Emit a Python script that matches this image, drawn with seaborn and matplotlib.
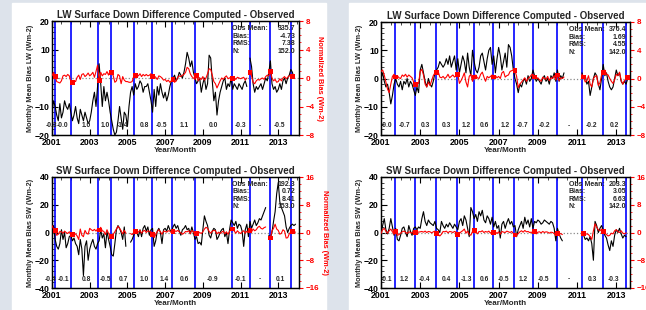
import numpy as np
import pandas as pd
import matplotlib
matplotlib.use('Agg')
import matplotlib.pyplot as plt
import matplotlib.transforms as mtransforms
from matplotlib.ticker import MultipleLocator
import seaborn as sns

sns.set_theme(style='white')
plt.rcParams['font.family'] = ['Liberation Sans', 'DejaVu Sans']
plt.rcParams['font.weight'] = 'bold'
plt.rcParams['axes.labelweight'] = 'bold'
plt.rcParams['axes.titleweight'] = 'bold'

nan = np.nan

# ---- LW, left station (monthly, from Jan 2001) ----
lw1_bias = [-12, -8, -10, -13, -15, -9, -14, -12, -8, -10, -11, -9,
            -12, -15, -13, -10, -14, -16, -11, -13, -15, -12, -14, -16,
            -15, -12, -8, -5, -10, -3, 5, -2, -10, -3, -8, -5,
            -8, -12, -15, -18, -20, -19, -15, -10, -14, -18, -12, -13,
            -17, -10, -5, -3, -6, -2, -4, -3, -1, -2, -5, -3,
            -3, -2, -5, -8, -12, -4, -10, -3, -6, -2, -5, -7,
            -5, -8, -6, -3, -1, 0, 1, -1, 0, 2, 1, 0,
            2, 5, 9, 7, 4, 6, 2, 0, -2, -1, 0, -5,
            -2, 0, -4, -2, 8, 7, -1, -8, -5, -13, -8, -5,
            -3, -1, 0, -4, -2, -3, 0, -4, -2, -3, -4, -2,
            -3, -4, -2, -1, -3, nan, 7, 4, -2, -5, -3, -4,
            -3, -2, -4, -2, 0, -1, 2, 6, -2, -4, -3, -5,
            -4, -2, -4, -1, 0, -2, 0, 1, 3, 2, 0, nan]
lw1_norm = [0.3, 0.8, 0.2, -0.5, -0.6, -0.7, -0.4, 0.3, 0.4, 0.2, 0.5, 0.3,
            -0.5, -0.6, -0.4, -0.5, 0.1, 0.4, -0.2, 0.5, 0.6, 0.2, 0.4, 0.7,
            0.3, 0.5, 0.8, 0.1, 0.9, 1.8, -0.4, 0.8, 0.3, 0.6, 0.5, 0.9,
            0.4, 1.0, 0.8, 0.3, -0.6, -0.4, 0.5, 0.3, -0.8, 0.2, -0.3, -0.5,
            -0.5, -0.6, -0.6, -0.5, 0.2, 0.4, 0.5, 0.3, 0.6, 0.2, 0.5, 0.3,
            0.5, 0.3, 0.4, 0.6, 0.2, 0.3, 0.1, -0.2, 0.3, 0.2, 0.0, -0.3,
            -0.2, -0.5, -0.3, -0.6, -0.4, -0.2, -0.6, -0.4, 0.1, 0.3, 0.2, 0.4,
            0.5, 0.8, 1.5, 1.3, 0.6, 0.2, 0.0, -0.2, 0.3, -0.4, 0.0, -0.2,
            0.2, -0.3, 0.0, 0.6, 1.3, 1.2, 0.4, -0.5, -0.8, -1.4, -0.9, -0.4,
            0.0, -0.2, 0.1, 0.3, -0.1, 0.0, 0.2, -0.1, 0.0, -0.2, 0.1, 0.0,
            -0.1, 0.0, 0.1, -0.3, 0.0, nan, 0.8, 0.3, -0.6, -0.8, -0.4, -0.2,
            -0.3, -0.1, 0.0, -0.2, 0.2, 0.4, 0.3, 0.9, 0.0, -0.4, -0.2, -0.6,
            -0.5, -0.1, -0.4, 0.0, 0.2, -0.1, 0.1, 0.3, 0.4, 0.2, 0.0, nan]
lw1_breaks = [2001.14, 2002.03, 2003.44, 2004.13, 2005.36, 2006.33, 2007.36,
              2008.59, 2010.53, 2011.49, 2012.56, 2013.68]
lw1_labels = ['-0.3', '-0.0', '1.0', '1.0', '-1.4', '0.8', '-0.5', '1.1',
              '0.0', '-0.3', '-', '-0.5']
lw1_label_x = [2000.95, 2001.57, 2002.83, 2003.84, 2004.73, 2005.89, 2006.83,
               2007.99, 2009.57, 2011.0, 2012.02, 2013.09]
lw1_stats = ['335.7', '-4.73', '7.38', '152.0']

# ---- LW, right station ----
lw2_bias = [0, 2, -1, -3, -2, -5, -9, -6, -2, 0, -2, -3,
            -1, -4, -1, -2, 0, -3, -1, -2, -4, -6, -3, -5,
            3, 5, 2, -1, -3, 0, -2, -3, -1, 2, 3, 4,
            6, 5, 4, 5, 7, 5, 8, 4, 6, 8, 3, 7,
            2, 5, 8, 6, 2, 9, 4, 1, 10, 6, 3, 2,
            4, 8, 9, 6, 3, 7, 10, 11, 5, 8, 2, 7,
            11, 8, 3, 6, 9, 4, 12, 11, 8, 3, 0, -2,
            -5, -2, -3, -1, 0, -2, 1, -1, 0, 3, 1, -1,
            0, -1, -2, 0, 1, -1, 0, -2, 1, 0, 2, -1,
            3, -1, 1, 0, 2, nan, nan, nan, nan, nan, nan, nan,
            nan, nan, nan, 2, 0, 1, -2, -1, -6, -3, 0, 2,
            1, -2, -4, 0, 5, 1, 2, -1, -3, -4, -3, 0,
            3, 1, 2, -1, -2, -1, -2, 0, nan, nan, nan, nan]
lw2_norm = [1.0, 1.2, 0.5, -0.5, -1.5, -2.0, -0.8, 0.3, 0.6, 0.2, 0.4, 0.1,
            0.0, 0.5, 0.3, 0.6, 0.2, 0.5, 0.3, 0.1, -0.5, -0.9, -0.6, -0.7,
            1.0, 1.3, 0.5, -0.8, -1.2, -0.5, -1.0, -0.3, 0.4, 0.8, 0.9, 1.0,
            0.2, 0.1, 0.3, 0.0, 0.2, 0.6, 0.1, 0.3, 0.5, 0.2, 0.4, 0.6,
            -0.7, -0.3, 0.2, 0.8, -0.5, -1.2, 0.3, 0.6, -0.4, 0.2, 0.5, 0.1,
            0.0, 0.6, 0.9, 0.2, -0.4, 0.3, 0.1, 0.3, 0.5, 0.2, 0.4, 0.1,
            0.3, 0.0, 0.8, 1.0, 0.2, 0.4, 0.5, 1.0, 1.1, 1.2, 1.1, 0.3,
            -1.3, -0.8, -0.5, -0.2, 0.1, -0.4, 0.0, 0.2, 0.5, 0.6, 0.2, 0.0,
            0.1, -0.2, -0.4, 0.2, 0.0, -0.1, 0.3, -0.3, 0.1, 0.0, 0.4, -0.2,
            0.5, -0.3, 0.1, 0.0, 0.2, nan, nan, nan, nan, nan, nan, nan,
            nan, nan, nan, 0.6, 0.2, -0.5, -0.3, 0.4, -0.8, -1.2, 0.0, 0.3,
            0.4, -1.0, -0.6, 0.5, 0.8, 1.2, 0.6, 0.5, 0.0, -0.4, -0.7, -0.2,
            0.6, 0.4, 0.9, -0.3, -0.8, -0.3, -0.1, 0.1, nan, nan, nan, nan]
lw2_breaks = [2001.71, 2002.73, 2003.80, 2004.90, 2005.74, 2006.72, 2007.79,
              2008.76, 2010.0, 2011.27, 2012.32, 2013.51]
lw2_labels = ['-0.0', '-0.7', '0.3', '0.3', '1.2', '0.6', '1.2', '-0.7',
              '-0.2', '-', '-0.2', '0.2']
lw2_label_x = [2001.29, 2002.19, 2003.29, 2004.34, 2005.36, 2006.30, 2007.32,
               2008.20, 2009.35, 2010.58, 2011.73, 2012.92]
lw2_stats = ['376.4', '1.69', '4.55', '142.0']

# ---- SW, left station ----
sw1_bias = [3, 5, -5, -10, -12, -8, 2, -5, 0, -11, -8, -3,
            -2, -6, -4, -8, -10, -16, -5, -12, -31, -10, -6, -20,
            -12, -8, -5, -10, -12, -8, -6, 2, -4, -1, -11, 1,
            -5, -10, -16, -17, -8, 2, 5, 3, 0, -5, 4, -10,
            nan, nan, -7, -5, -2, 1, 0, -3, 2, -3, 3, 5,
            1, 4, -2, 2, 3, -10, -6, 1, 3, 0, -8, 2,
            3, 1, 5, 2, 0, 4, 6, 3, 5, 1, -2, 2,
            3, 5, 2, 3, -1, 4, 0, -5, -3, -8, -7, -9,
            2, 12, 8, 5, -2, -4, 1, 3, 2, -5, -3, 0,
            2, 3, -3, 0, -8, 2, 9, 7, 5, 8, 3, 6,
            5, 1, -10, 2, 6, -3, 8, 3, 6, 9, 5, 7,
            10, 9, 12, 15, 18, nan, -2, -4, 0, 8, 15, 28,
            36, 22, 18, 15, 12, 4, 0, 3, 5, 6, 5, 6]
sw1_norm = [2.0, 1.0, 0.5, -0.8, -0.5, 0.3, 0.2, -0.2, 0.4, 0.0, -0.3, 0.2,
            -0.3, -0.5, -0.6, -0.4, -1.0, -2.0, 1.0, -0.8, -1.2, 0.6, -0.2, -0.5,
            1.2, 0.8, 0.5, 0.9, 0.4, 1.0, 0.7, 1.5, 0.5, 0.3, -0.6, 0.8,
            -0.3, -1.0, -1.2, -0.5, 0.2, 1.0, 1.8, 1.2, 0.5, -0.4, 0.6, -0.2,
            nan, nan, -0.3, -0.6, -0.2, 0.4, 0.5, 0.1, 0.6, -0.2, 0.4, 0.6,
            0.0, 0.5, 0.3, 0.2, -0.5, -1.5, -0.6, 0.3, 0.8, 0.2, -0.5, 0.4,
            0.3, 0.1, 0.5, 0.4, 0.0, 0.2, 0.5, 0.3, 0.6, 0.2, -0.1, -0.5,
            -0.2, 0.3, 0.2, 0.5, -0.3, 0.6, 0.1, -0.6, -0.4, 0.2, 0.0, -0.3,
            0.2, 1.0, 1.5, 1.2, 0.3, -0.2, 0.4, 0.6, 0.5, -0.4, 0.1, -0.3,
            0.1, 0.4, -0.4, 0.2, -0.5, 0.3, 1.2, 1.0, 0.4, -0.2, 0.5, 0.0,
            -0.3, 0.2, 0.5, -0.2, 0.4, 0.0, 0.6, 0.2, 1.0, 0.5, 0.8, 1.5,
            1.8, 1.2, 1.0, 1.4, 1.6, nan, -1.4, -1.6, 0.5, 1.2, 2.4, 1.0,
            0.6, -0.5, -0.2, 0.8, 0.4, -1.6, -1.5, -0.4, 0.2, 0.3, 0.2, 0.1]
sw1_breaks = lw1_breaks
sw1_labels = ['-0.4', '-0.1', '0.8', '-0.5', '0.7', '1.0', '1.4', '0.6',
              '-0.9', '-0.1', '-', '0.1']
sw1_label_x = [2000.90, 2001.62, 2002.83, 2003.84, 2004.79, 2005.89, 2006.96,
               2008.02, 2009.53, 2011.0, 2012.02, 2013.09]
sw1_stats = ['192.3', '0.72', '8.41', '153.0']

# ---- SW, right station ----
sw2_bias = [0, 5, 10, 2, -1, 3, 10, 4, -2, 3, -5, -6,
            -2, 3, 4, 0, -3, 5, 1, -2, 3, 4, 2, 4,
            3, 10, 15, 8, 5, 9, 7, 6, 5, 8, 3, 2,
            0, 8, 5, 3, 6, 4, 7, 5, 3, 6, 4, 2,
            8, 10, 5, 12, 9, 3, -3, 18, 15, 10, 13, 8,
            15, 12, 16, 9, 7, 12, 10, 6, 11, 4, 8, 3,
            5, -4, 6, 8, 3, 7, 10, 6, 8, 4, 5, -3,
            2, 5, 8, 3, 11, 6, 9, 4, 10, 3, 8, 7,
            9, 8, 6, 7, 9, 8, 7, 6, 8, 7, 3, -6,
            3, -1, -4, -6, nan, nan, nan, nan, nan, nan, nan, nan,
            nan, nan, nan, 0, -2, -5, -4, -6, -3, -8, -20, 8,
            5, 0, 3, 5, 2, -2, -4, -9, -13, -6, -10, -2,
            2, 0, 3, -1, -4, -2, -3, nan, nan, nan, nan, nan]
sw2_norm = [-0.3, 0.8, 1.2, 0.3, -0.2, 0.5, 1.0, 0.2, -0.5, 0.3, -0.8, -0.6,
            -0.2, 0.2, 0.4, 0.1, -0.3, 0.2, 0.0, -0.2, 0.3, 0.1, 0.2, 0.1,
            0.2, 0.3, 0.1, 0.4, 0.0, 0.3, 0.2, -0.1, 0.2, 0.4, -0.3, -0.5,
            -1.0, -0.5, 0.3, 0.2, 0.4, -0.1, 0.3, 0.2, 0.0, 0.3, 0.1, -0.6,
            -0.3, 0.2, 0.5, 1.0, -0.2, 0.4, -0.5, -0.8, 0.3, 0.6, 0.1, -0.4,
            0.3, 0.2, 0.5, 0.0, 0.3, 0.1, 0.4, -0.2, 0.3, 0.0, 0.2, -0.3,
            0.2, -0.5, 0.3, 0.1, 0.0, 0.4, 0.2, 0.0, 0.3, -0.3, -0.7, -0.8,
            -0.3, 0.2, 0.5, 0.1, 0.6, 0.2, 0.3, 0.0, 0.1, -0.2, 0.2, -0.4,
            0.1, 0.2, -0.1, 0.3, 0.0, 0.2, 0.1, -0.2, 0.1, 0.0, -0.3, -0.8,
            -0.2, -0.5, -0.3, -0.6, nan, nan, nan, nan, nan, nan, nan, nan,
            nan, nan, nan, -0.2, -0.3, -0.5, -0.4, -0.6, -1.2, -2.0, 0.5, 2.5,
            1.5, 0.8, 0.5, 1.0, 0.3, -0.3, -0.6, -1.0, -0.8, -0.2, -0.4, 0.5,
            0.8, 0.3, 0.0, 0.5, -0.2, -0.4, -0.1, nan, nan, nan, nan, nan]
sw2_breaks = lw2_breaks
sw2_labels = ['-0.1', '1.2', '-0.4', '0.4', '-1.3', '0.6', '-0.5', '1.2',
              '-0.5', '-', '0.3', '-0.3']
sw2_label_x = [2001.29, 2002.19, 2003.24, 2004.34, 2005.36, 2006.30, 2007.23,
               2008.25, 2009.30, 2010.58, 2011.78, 2012.88]
sw2_stats = ['203.3', '3.05', '6.63', '142.0']

stat_names = ['Obs Mean:', 'Bias:', 'RMS:', 'N:']

W, H = 646, 310
fig = plt.figure(figsize=(W / 100, H / 100), dpi=100)
fig.patch.set_facecolor('#dde3eb')
# white page areas of the two screenshots
fig.add_artist(plt.Rectangle((12 / W, 0), (326 - 12) / W, 307 / H,
                             transform=fig.transFigure, color='white', zorder=0))
fig.add_artist(plt.Rectangle((349 / W, 0), (W - 349) / W, 307 / H,
                             transform=fig.transFigure, color='white', zorder=0))

panels = [
    dict(px=(52, 299), py=(21, 135), bias=lw1_bias, norm=lw1_norm, breaks=lw1_breaks,
         labels=lw1_labels, lx=lw1_label_x, stats=lw1_stats, kind='LW', xmax=2014.1,
         sx=0.73),
    dict(px=(381, 630), py=(22, 135), bias=lw2_bias, norm=lw2_norm, breaks=lw2_breaks,
         labels=lw2_labels, lx=lw2_label_x, stats=lw2_stats, kind='LW', xmax=2013.7,
         sx=0.755),
    dict(px=(52, 299), py=(177, 288), bias=sw1_bias, norm=sw1_norm, breaks=sw1_breaks,
         labels=sw1_labels, lx=sw1_label_x, stats=sw1_stats, kind='SW', xmax=2014.1,
         sx=0.73),
    dict(px=(381, 630), py=(177, 288), bias=sw2_bias, norm=sw2_norm, breaks=sw2_breaks,
         labels=sw2_labels, lx=sw2_label_x, stats=sw2_stats, kind='SW', xmax=2013.7,
         sx=0.755),
]

for p in panels:
    x0, x1 = p['px']
    y0, y1 = p['py']
    ax = fig.add_axes([x0 / W, 1 - y1 / H, (x1 - x0) / W, (y1 - y0) / H])
    ax.set_facecolor('white')
    ax2 = ax.twinx()

    n = len(p['bias'])
    t = 2001 + np.arange(n) / 12.0
    df = pd.DataFrame({'t': t, 'bias': p['bias'], 'norm': p['norm']})
    # segment ids so gaps (NaN) are not bridged
    df['seg_b'] = df['bias'].isna().cumsum()
    df['seg_n'] = df['norm'].isna().cumsum()

    if p['kind'] == 'LW':
        ylim, y2lim, ymaj, ymin, y2maj = 20, 8, 10, 2, 4
    else:
        ylim, y2lim, ymaj, ymin, y2maj = 40, 16, 20, 4, 8

    for b in p['breaks']:
        ax.axvline(b, color='#0000ff', lw=1.2, zorder=1)
    ax.axhline(0, color='#888888', ls=':', lw=0.9, zorder=1)

    sns.lineplot(data=df.dropna(subset=['bias']), x='t', y='bias', units='seg_b',
                 estimator=None, color='black', lw=0.8, ax=ax, zorder=3)
    sns.lineplot(data=df.dropna(subset=['norm']), x='t', y='norm', units='seg_n',
                 estimator=None, color='#ff0000', lw=0.8, ax=ax2, zorder=3)
    idx = np.searchsorted(df['t'].values, p['breaks'])
    idx = idx[idx < n]
    mk = df.iloc[idx].dropna(subset=['norm'])
    sns.scatterplot(data=mk, x='t', y='norm', marker='s', s=12, color='#ff0000',
                    edgecolor='none', ax=ax2, zorder=4)

    ax.set_xlim(2001, p['xmax'])
    ax.set_ylim(-ylim, ylim)
    ax2.set_ylim(-y2lim, y2lim)
    ax.xaxis.set_minor_locator(MultipleLocator(0.5))
    ax.yaxis.set_major_locator(MultipleLocator(ymaj))
    ax.yaxis.set_minor_locator(MultipleLocator(ymin))
    ax2.yaxis.set_major_locator(MultipleLocator(y2maj))
    ax2.yaxis.set_minor_locator(MultipleLocator(1 if p['kind'] == 'LW' else 2))

    ax.tick_params(axis='both', which='major', direction='in', length=4, width=0.8,
                   labelsize=6.3, top=True, pad=2, colors='black')
    ax.tick_params(axis='both', which='minor', direction='in', length=2, width=0.6,
                   top=True)
    ax.tick_params(axis='y', left=True, right=False, pad=1.5)
    ax.tick_params(axis='x', bottom=True, pad=2.5)
    ax2.tick_params(axis='y', which='major', direction='out', length=3, width=0.8,
                    colors='#ff0000', labelsize=5.8, pad=2)
    ax2.tick_params(axis='y', which='minor', direction='out', length=1.5,
                    width=0.6, colors='#ff0000')
    ax.set_xticks([2001, 2003, 2005, 2007, 2009, 2011, 2013])
    ax.set_xticklabels(['2001', '2003', '2005', '2007', '2009', '2011', '2013'],
                       fontweight='bold')
    for lab in ax.get_yticklabels():
        lab.set_fontweight('bold')
    for lab in ax2.get_yticklabels():
        lab.set_fontweight('bold')

    for a in (ax, ax2):
        for s in a.spines.values():
            s.set_color('black')
            s.set_linewidth(0.9)

    ax.set_title('%s Surface Down Difference Computed - Observed' % p['kind'],
                 fontsize=7, fontweight='bold', pad=2.5)
    ax.set_xlabel('Year/Month', fontsize=5.8, fontweight='bold', labelpad=0)
    ax.set_ylabel('Monthly Mean Bias %s (Wm-2)' % p['kind'], fontsize=5.3,
                  fontweight='bold', labelpad=0.5)
    ax2.set_ylabel('Normalized Bias (Wm-2)', fontsize=5.3, fontweight='bold',
                   color='#ff0000', rotation=270, labelpad=6)

    trans = mtransforms.blended_transform_factory(ax.transData, ax.transAxes)
    for lab, xx in zip(p['labels'], p['lx']):
        ax.text(xx, 0.08, lab, transform=trans, fontsize=4.8, fontweight='bold',
                ha='center', va='center', zorder=5)

    for k, (nm, val) in enumerate(zip(stat_names, p['stats'])):
        yy = 0.935 - k * 0.068
        ax.text(p['sx'], yy, nm, transform=ax.transAxes, fontsize=5,
                fontweight='bold', ha='left', va='center', zorder=5)
        ax.text(0.985, yy, val, transform=ax.transAxes, fontsize=5,
                fontweight='bold', ha='right', va='center', zorder=5)

fig.savefig('out.png', dpi=100, facecolor=fig.get_facecolor())
